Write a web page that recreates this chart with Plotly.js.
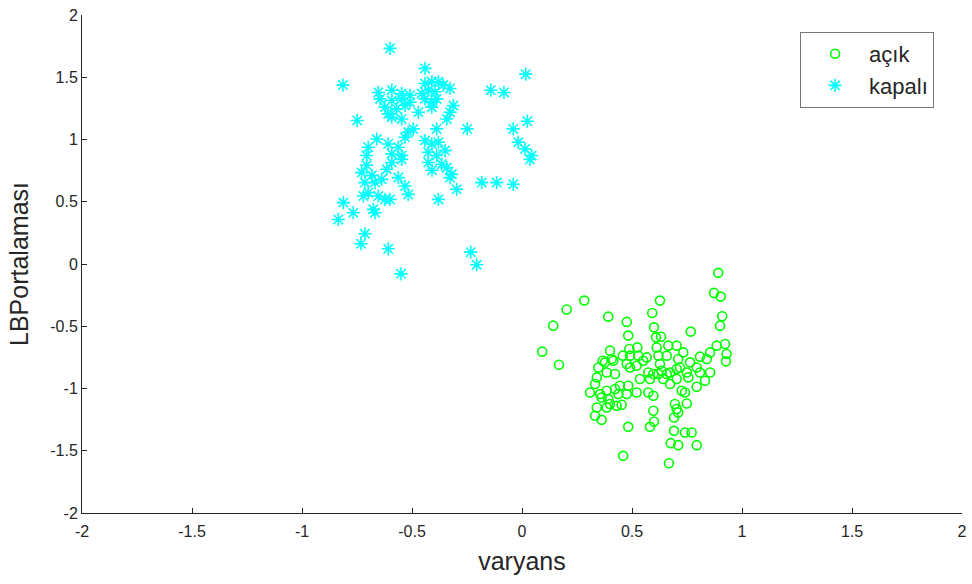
<!DOCTYPE html>
<html>
<head>
<meta charset="utf-8">
<script src="https://cdn.plot.ly/plotly-3.0.1.min.js"></script>
<style>
  html, body { margin: 0; padding: 0; background: #ffffff; }
  #chart { width: 972px; height: 584px; }
</style>
</head>
<body>
<div id="chart"></div>
<script>
// "açık" class: variance vs. LB mean
const acikVaryans = [
  0.892, 0.873, 0.903, 0.910, 0.900, 0.283, 0.203, 0.142, 0.392, 0.476,
  0.592, 0.627, 0.600, 0.767, 0.092, 0.168, 0.483, 0.609, 0.632, 0.400,
  0.408, 0.458, 0.488, 0.524, 0.491, 0.529, 0.612, 0.620, 0.658, 0.665,
  0.703, 0.733, 0.710, 0.764, 0.809, 0.840, 0.855, 0.885, 0.923, 0.930,
  0.927, 0.347, 0.377, 0.385, 0.423, 0.476, 0.491, 0.551, 0.567, 0.521,
  0.574, 0.597, 0.620, 0.635, 0.627, 0.658, 0.673, 0.703, 0.718, 0.749,
  0.756, 0.794, 0.809, 0.855, 0.832, 0.794, 0.332, 0.340, 0.309, 0.355,
  0.385, 0.423, 0.438, 0.476, 0.483, 0.445, 0.521, 0.574, 0.597, 0.536,
  0.582, 0.642, 0.673, 0.703, 0.726, 0.741, 0.340, 0.385, 0.430, 0.453,
  0.400, 0.332, 0.362, 0.483, 0.597, 0.600, 0.582, 0.695, 0.703, 0.691,
  0.749, 0.710, 0.691, 0.741, 0.771, 0.676, 0.710, 0.794, 0.460, 0.668,
  0.362, 0.367, 0.415, 0.392
];
const acikLB = [
  -0.071, -0.232, -0.262, -0.420, -0.495, -0.294, -0.366, -0.495, -0.423, -0.465,
  -0.393, -0.294, -0.509, -0.543, -0.704, -0.809, -0.575, -0.589, -0.584, -0.696,
  -0.763, -0.736, -0.683, -0.670, -0.736, -0.736, -0.670, -0.736, -0.736, -0.656,
  -0.656, -0.710, -0.763, -0.790, -0.744, -0.763, -0.710, -0.656, -0.642, -0.723,
  -0.782, -0.831, -0.790, -0.871, -0.884, -0.803, -0.831, -0.777, -0.750, -0.817,
  -0.871, -0.884, -0.884, -0.857, -0.803, -0.884, -0.871, -0.843, -0.831, -0.871,
  -0.911, -0.831, -0.871, -0.871, -0.938, -0.986, -0.964, -0.911, -1.032, -1.045,
  -1.018, -1.004, -1.045, -1.045, -0.978, -0.978, -1.032, -1.032, -1.058, -0.924,
  -0.924, -0.924, -0.964, -0.924, -1.018, -1.032, -1.153, -1.153, -1.139, -1.131,
  -1.125, -1.219, -1.252, -1.308, -1.179, -1.265, -1.308, -1.125, -1.165, -1.233,
  -1.120, -1.193, -1.340, -1.354, -1.354, -1.439, -1.455, -1.455, -1.541, -1.600,
  -1.072, -0.777, -0.777, -1.083
];

// "kapalı" class: variance vs. LB mean
const kapaliVaryans = [
  -0.600, -0.441, -0.814, 0.017, -0.653, -0.592, -0.547, -0.509, -0.441, -0.410,
  -0.380, -0.358, -0.327, -0.426, -0.395, -0.456, -0.142, -0.082, -0.645, -0.592,
  -0.547, -0.509, -0.441, -0.410, -0.388, -0.623, -0.570, -0.532, -0.592, -0.547,
  -0.608, -0.471, -0.410, -0.312, -0.327, -0.342, -0.749, -0.494, -0.388, -0.249,
  -0.040, 0.024, -0.660, -0.699, -0.706, -0.608, -0.562, -0.532, -0.517, -0.592,
  -0.547, -0.441, -0.410, -0.380, -0.350, -0.426, -0.388, -0.017, 0.014, 0.044,
  -0.426, -0.365, -0.342, -0.547, -0.320, -0.327, -0.297, -0.729, -0.714, -0.699,
  -0.721, -0.668, -0.638, -0.615, -0.592, -0.653, -0.623, -0.600, -0.562, -0.532,
  -0.517, -0.676, -0.668, -0.812, -0.767, -0.380, -0.183, -0.115, -0.040, 0.036,
  -0.835, -0.714, -0.732, -0.608, -0.550, -0.233, -0.206, -0.706, -0.682, -0.409
];
const kapaliLB = [
  1.732, 1.571, 1.437, 1.525, 1.378, 1.396, 1.370, 1.356, 1.450, 1.463,
  1.463, 1.437, 1.410, 1.396, 1.383, 1.370, 1.396, 1.378, 1.326, 1.313,
  1.326, 1.300, 1.326, 1.300, 1.326, 1.260, 1.246, 1.273, 1.179, 1.165,
  1.206, 1.219, 1.260, 1.273, 1.219, 1.165, 1.153, 1.085, 1.085, 1.085,
  1.085, 1.147, 1.004, 0.938, 0.871, 0.964, 0.938, 1.018, 1.058, 0.884,
  0.871, 0.992, 0.964, 0.978, 0.911, 0.897, 0.871, 0.978, 0.924, 0.871,
  0.815, 0.801, 0.774, 0.841, 0.720, 0.694, 0.600, 0.734, 0.654, 0.573,
  0.546, 0.654, 0.680, 0.761, 0.815, 0.546, 0.519, 0.519, 0.694, 0.626,
  0.559, 0.439, 0.412, 0.493, 0.412, 0.519, 0.654, 0.654, 0.640, 0.841,
  0.358, 0.243, 0.163, 0.122, -0.079, 0.095, -0.006, 0.793, 0.712, 0.753
];

const tickValues = [-2, -1.5, -1, -0.5, 0, 0.5, 1, 1.5, 2];
const tickLabels = ['-2', '-1.5', '-1', '-0.5', '0', '0.5', '1', '1.5', '2'];

const fontFamily = '"Liberation Sans", Arial, Helvetica, sans-serif';
const axisColor = '#262626';

const traces = [
  {
    x: acikVaryans,
    y: acikLB,
    name: 'açık',
    type: 'scatter',
    mode: 'markers',
    marker: {
      symbol: 'circle-open',
      size: 9,
      color: '#00ff00',
      line: { color: '#00ff00', width: 1.6 }
    }
  },
  {
    x: kapaliVaryans,
    y: kapaliLB,
    name: 'kapalı',
    type: 'scatter',
    mode: 'markers',
    marker: {
      symbol: 'asterisk-open',
      size: 11,
      color: '#00ffff',
      line: { color: '#00ffff', width: 1.6 }
    }
  }
];

function axis(titleText) {
  return {
    range: [-2, 2],
    tickmode: 'array',
    tickvals: tickValues,
    ticktext: tickLabels,
    ticks: 'inside',
    ticklen: 5,
    tickwidth: 1,
    tickcolor: axisColor,
    showline: true,
    linecolor: axisColor,
    linewidth: 1,
    mirror: false,
    showgrid: false,
    zeroline: false,
    tickfont: { family: fontFamily, size: 16, color: axisColor },
    title: { text: titleText, font: { family: fontFamily, size: 25, color: axisColor } }
  };
}

const xaxis = axis('varyans');
xaxis.title.standoff = 13;
xaxis.ticklabelstandoff = 4;
const yaxis = axis('LBPortalaması');
yaxis.title.standoff = 14;

const layout = {
  width: 972,
  height: 584,
  margin: { l: 82, r: 10, t: 15, b: 71 },
  paper_bgcolor: '#ffffff',
  plot_bgcolor: '#ffffff',
  showlegend: true,
  xaxis: xaxis,
  yaxis: yaxis,
  legend: {
    x: 0.816,
    y: 0.966,
    xanchor: 'left',
    yanchor: 'top',
    bgcolor: '#ffffff',
    bordercolor: '#777777',
    borderwidth: 1,
    font: { family: fontFamily, size: 22, color: axisColor },
    itemwidth: 58
  }
};

Plotly.newPlot('chart', traces, layout, { displayModeBar: false, staticPlot: true });
</script>
</body>
</html>
